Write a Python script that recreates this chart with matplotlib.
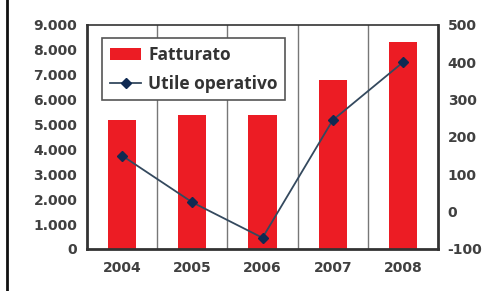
import matplotlib

matplotlib.use("Agg")
import matplotlib.pyplot as plt  # noqa: E402
from matplotlib.lines import Line2D  # noqa: E402

years = ["2004", "2005", "2006", "2007", "2008"]
fatturato = [5200, 5400, 5400, 6800, 8300]
utile = [150, 25, -70, 245, 400]
left_ticks = [0, 1000, 2000, 3000, 4000, 5000, 6000, 7000, 8000, 9000]
left_labels = ["0", "1.000", "2.000", "3.000", "4.000", "5.000", "6.000", "7.000", "8.000", "9.000"]
right_ticks = [-100, 0, 100, 200, 300, 400, 500]
right_labels = ["-100", "0", "100", "200", "300", "400", "500"]

plt.rcParams["font.family"] = ["DejaVu Sans"]
text_col = "#404040"
fs = 10

fig = plt.figure(figsize=(5.02, 2.91), dpi=100)
ax = fig.add_axes([87 / 502, 1 - 249 / 291, 351 / 502, 224 / 291])
x = range(len(years))
bars = ax.bar(x, fatturato, width=0.4, color="#ec1c24", zorder=2)
ax.set_xlim(-0.5, len(years) - 0.5)
ax.set_ylim(0, 9000)
ax.set_yticks(left_ticks)
ax.set_yticklabels(left_labels)
ax.set_xticks(list(x))
ax.set_xticklabels(years)
for b in [0.5, 1.5, 2.5, 3.5]:
    ax.axvline(b, color="#777777", lw=1, zorder=1)
ax.tick_params(axis="y", length=0, labelsize=fs, colors=text_col, pad=7)
ax.tick_params(axis="x", length=0, labelsize=fs, colors=text_col, pad=9)
for lab in ax.get_xticklabels() + ax.get_yticklabels():
    lab.set_fontweight("bold")
for s in ax.spines.values():
    s.set_color("#333333")
    s.set_linewidth(2)
ax.spines["top"].set_linewidth(1.2)

ax2 = ax.twinx()
ax2.set_ylim(-100, 500)
ax2.set_yticks(right_ticks)
ax2.set_yticklabels(right_labels)
line, = ax2.plot(list(x), utile, color="#34495e", lw=1.3, marker="D", markersize=5.5,
                 markerfacecolor="#0f2a52", markeredgecolor="#0f2a52", zorder=3)
ax2.tick_params(length=0, labelsize=fs, colors=text_col, pad=7)
for lab in ax2.get_yticklabels():
    lab.set_fontweight("bold")
for s in ax2.spines.values():
    s.set_visible(False)

leg = ax.legend([bars, line], ["Fatturato", "Utile operativo"], loc="upper left",
                bbox_to_anchor=(0.043, 0.94), fancybox=False, framealpha=1,
                edgecolor="#555555", prop={"family": "Open Sans", "weight": "bold", "size": 12.5},
                handlelength=1.8, handleheight=0.65, borderpad=0.45,
                labelspacing=0.6, handletextpad=0.4, borderaxespad=0)
leg.get_frame().set_linewidth(1.2)
leg.set_zorder(5)
for t in leg.get_texts():
    t.set_color("#333333")

fig.add_artist(Line2D([7 / 502, 7 / 502], [0, 1], color="#111111", lw=2))
fig.savefig("out.png", dpi=100)
plt.close(fig)
